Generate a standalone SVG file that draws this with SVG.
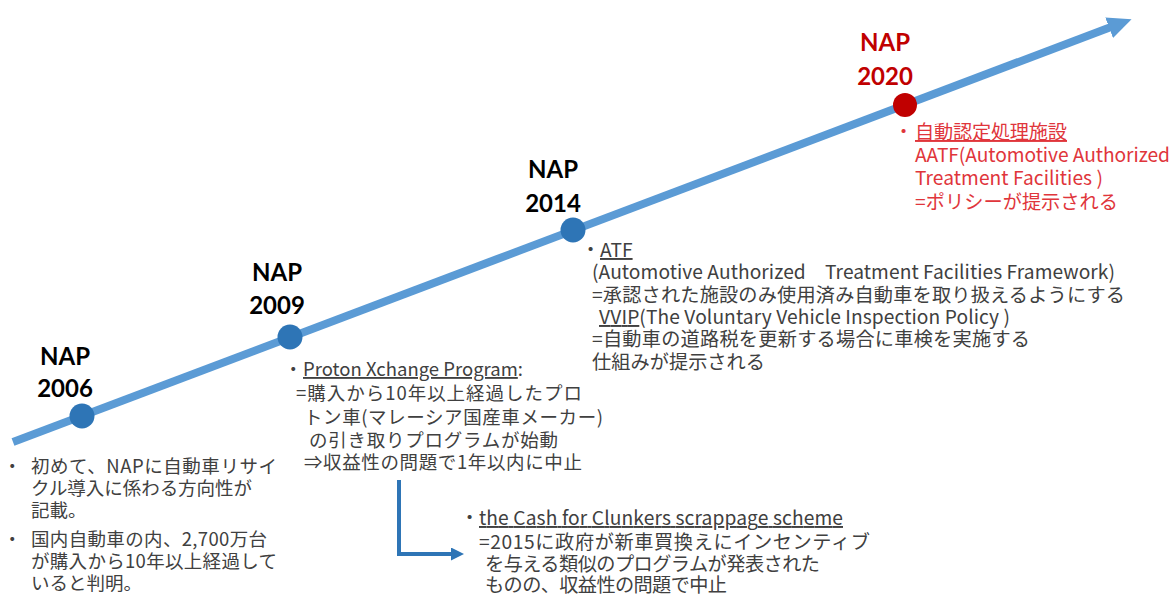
<svg xmlns="http://www.w3.org/2000/svg" width="1173" height="596" viewBox="0 0 1173 596">
<defs>
<marker id="bigHead" markerUnits="userSpaceOnUse" markerWidth="26" markerHeight="24" refX="2" refY="11" orient="auto">
<path d="M0,0 L24,11 L0,22 Z" fill="#5b9bd5"/>
</marker>
<marker id="smallHead" markerUnits="userSpaceOnUse" markerWidth="14" markerHeight="14" refX="1" refY="6.5" orient="auto">
<path d="M0,0 L13,6.5 L0,13 Z" fill="#2e75b6"/>
</marker>
<style>
.title{font-family:Lato,"Open Sans","Liberation Sans",sans-serif;font-weight:700;font-size:24px;text-anchor:middle;fill:#000}
.red-title{fill:#c00000}
.body{font-family:"Noto Sans CJK JP","Noto Sans",sans-serif;font-size:18.5px;fill:#404040}
.big{font-size:19.2px}
.red-body{fill:#e0353b}
.dot{fill:#2e75b6}
.red-dot{fill:#c00000}
.u{text-decoration:underline}
</style>
</defs>
<rect width="1173" height="596" fill="#ffffff"/>

<g id="connectors">
<line x1="13" y1="442" x2="1111" y2="27" stroke="#5b9bd5" stroke-width="8" marker-end="url(#bigHead)"/>
<path d="M399,480 V554 H452" fill="none" stroke="#2e75b6" stroke-width="4" marker-end="url(#smallHead)"/>
</g>

<g id="nap2006">
<circle class="dot" cx="82" cy="416" r="12.5"/>
<text class="title" x="65" y="365">NAP</text>
<text class="title" x="65" y="397">2006</text>
<text class="body" y="473"><tspan x="3">・</tspan><tspan x="31" textLength="246" lengthAdjust="spacing">初めて、NAPに自動車リサイ</tspan></text>
<text class="body" x="31" y="495" textLength="221" lengthAdjust="spacing">クル導入に係わる方向性が</text>
<text class="body" x="31" y="517">記載。</text>
<text class="body" y="546"><tspan x="3">・</tspan><tspan x="31" textLength="236" lengthAdjust="spacing">国内自動車の内、2,700万台</tspan></text>
<text class="body" x="31" y="568" textLength="246" lengthAdjust="spacing">が購入から10年以上経過して</text>
<text class="body" x="31" y="590">いると判明。</text>
</g>

<g id="nap2009">
<circle class="dot" cx="290" cy="337" r="12.5"/>
<text class="title" x="277" y="281">NAP</text>
<text class="title" x="277" y="314">2009</text>
<text class="body" y="376"><tspan x="284">・</tspan><tspan x="303" class="u">Proton Xchange Program</tspan><tspan>:</tspan></text>
<text class="body" x="296" y="400" textLength="286" lengthAdjust="spacing">=購入から10年以上経過したプロ</text>
<text class="body" x="304" y="424" textLength="299" lengthAdjust="spacing">トン車(マレーシア国産車メーカー)</text>
<text class="body" x="309" y="447" textLength="249" lengthAdjust="spacing">の引き取りプログラムが始動</text>
<text class="body" x="304" y="469" textLength="278" lengthAdjust="spacing">⇒収益性の問題で1年以内に中止</text>
</g>

<g id="cash-for-clunkers">
<text class="body big" y="525"><tspan x="460">・</tspan><tspan x="479" class="u" textLength="364" lengthAdjust="spacing">the Cash for Clunkers scrappage scheme</tspan></text>
<text class="body big" x="479" y="549" textLength="391" lengthAdjust="spacing">=2015に政府が新車買換えにインセンティブ</text>
<text class="body big" x="485" y="571" textLength="335" lengthAdjust="spacing">を与える類似のプログラムが発表された</text>
<text class="body big" x="485" y="592" textLength="242" lengthAdjust="spacing">ものの、収益性の問題で中止</text>
</g>

<g id="nap2014">
<circle class="dot" cx="573" cy="230" r="12.5"/>
<text class="title" x="553" y="178">NAP</text>
<text class="title" x="553" y="212">2014</text>
<text class="body big" y="257"><tspan x="581">・</tspan><tspan x="600" class="u">ATF</tspan></text>
<text class="body big" x="592" y="279" textLength="523" lengthAdjust="spacing">(Automotive Authorized　Treatment Facilities Framework)</text>
<text class="body big" x="592" y="302" textLength="533" lengthAdjust="spacing">=承認された施設のみ使用済み自動車を取り扱えるようにする</text>
<text class="body big" y="324" x="599" textLength="411" lengthAdjust="spacing"><tspan class="u">VVIP</tspan><tspan>(The Voluntary Vehicle Inspection Policy )</tspan></text>
<text class="body big" x="592" y="346" textLength="438" lengthAdjust="spacing">=自動車の道路税を更新する場合に車検を実施する</text>
<text class="body big" x="592" y="369" textLength="173" lengthAdjust="spacing">仕組みが提示される</text>
</g>

<g id="nap2020">
<circle class="red-dot" cx="905" cy="105" r="12"/>
<text class="title red-title" x="885" y="51">NAP</text>
<text class="title red-title" x="885" y="85">2020</text>
<text class="body big red-body" y="139"><tspan x="894">・</tspan><tspan x="915" class="u" textLength="152" lengthAdjust="spacing">自動認定処理施設</tspan></text>
<text class="body big red-body" x="915" y="162" textLength="255" lengthAdjust="spacing">AATF(Automotive Authorized</text>
<text class="body big red-body" x="915" y="185" textLength="188" lengthAdjust="spacing">Treatment Facilities )</text>
<text class="body big red-body" x="915" y="209" textLength="203" lengthAdjust="spacing">=ポリシーが提示される</text>
</g>
</svg>
